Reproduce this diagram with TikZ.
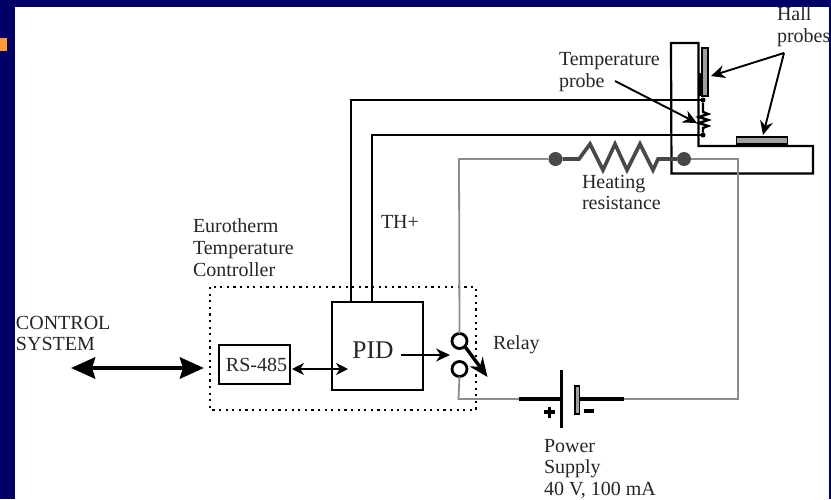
\documentclass[tikz,border=0pt]{standalone}
\usepackage{fontspec}
\setmainfont{Liberation Serif}
\usetikzlibrary{arrows.meta}
\definecolor{navybg}{HTML}{000066}
\definecolor{bullet}{HTML}{FF9933}
\definecolor{wiregray}{HTML}{8C8C8C}
\definecolor{probegray}{HTML}{A0A0A0}
\definecolor{resdark}{HTML}{484848}
\tikzset{
  lbl/.style={anchor=base west,inner sep=0pt,outer sep=0pt,font=\fontsize{20}{22}\selectfont,text=black!85},
  blackwire/.style={draw=black,line width=1.8pt},
  graywire/.style={draw=wiregray,line width=1.8pt},
  thin arrow/.style={draw=black,line width=1.9pt,-{Stealth[length=14pt,width=13pt]}},
  boxnode/.style={draw=black,line width=2.3pt,inner sep=0pt,outer sep=0pt,fill=white,anchor=north west},
  terminal/.style={circle,draw=black,line width=2.8pt,minimum size=15pt,inner sep=0pt,outer sep=0pt},
  dotnode/.style={circle,fill=resdark,minimum size=14pt,inner sep=0pt,outer sep=0pt},
  tinydot/.style={circle,fill=black,minimum size=5pt,inner sep=0pt,outer sep=0pt},
  probebox/.style={draw=black,line width=1.8pt,fill=probegray,inner sep=0pt,outer sep=0pt,anchor=north west}
}
\begin{document}
\begin{tikzpicture}[x=1pt,y=-1pt]
\useasboundingbox (0,0) rectangle (831,499);
\fill[navybg] (0,0) rectangle (831,499);
\fill[white] (15,7) rectangle (829,499);
\fill[bullet] (0,37.5) rectangle (7,51);

% sample holder
\draw[draw=black,line width=2.2pt,line join=miter] (671,43) -- (698.5,43) -- (698.5,146) -- (813,146) -- (813,173.5) -- (671.5,173.5) -- cycle;
\node[probebox,minimum width=6pt,minimum height=48pt] (hallA) at (702,48) {};
\node[probebox,minimum width=51pt,minimum height=7pt] (hallB) at (736.5,137) {};
\draw[draw=black,line width=2.5pt] (699.5,73) -- (699.5,96);

% boxes
\draw[draw=black,line width=2.2pt,dash pattern=on 2.2pt off 4.4pt] (210,287) rectangle (476,410);
\node[boxnode,minimum width=91pt,minimum height=88pt] (pid) at (332,302) {};
\node[anchor=base,inner sep=0pt,font=\fontsize{25.5}{28}\selectfont,text=black!85] (pidt) at (373,358) {PID};
\node[boxnode,minimum width=71pt,minimum height=39pt] (rs) at (219,345) {};
\node[anchor=base,inner sep=0pt,font=\fontsize{20}{22}\selectfont,text=black!85] (rst) at (256.5,371) {RS-485};

% named points
\coordinate (ctlL) at (71,368);
\coordinate (ctlR) at (204,368);
\coordinate (wireA) at (351,100);
\coordinate (wireB) at (372,135);
\coordinate (pidA) at (351,302);
\coordinate (pidB) at (372,302);
\node[tinydot] (tpA) at (703,100) {};
\node[tinydot] (tpB) at (703,135) {};

% controller wires
\draw[blackwire] (pidA) -- (wireA) -- (tpA);
\draw[blackwire] (pidB) -- (wireB) -- (tpB);

% temperature probe coil
\draw[draw=black,line width=2.4pt] (tpA) -- (703,112) -- (708,114) -- (699,117) -- (708,120) -- (699,123) -- (708,126) -- (703,128) -- (tpB);

% relay
\node[terminal] (relA) at (459.5,341) {};
\node[terminal] (relB) at (459.5,369) {};
\coordinate (relTip) at (487.5,377);
\draw[draw=black,line width=3.4pt,-{Stealth[length=19pt,width=16pt,fill=resdark]}] (relA.-45) -- (relTip);

% heater
\node[dotnode] (resL) at (555.5,159) {};
\node[dotnode] (resR) at (684,159) {};
\draw[graywire] (relA.north) -- (459,159) -- (resL);
\draw[draw=resdark,line width=3.6pt,line join=miter] (resL) -- (579,159) -- (590,144) -- (603,170) -- (615,144) -- (627,170) -- (640,144) -- (653,170) -- (658,159) -- (resR);

% battery
\coordinate (batL) at (519,399);
\coordinate (batPlus) at (560,399);
\coordinate (batMinus) at (579,399);
\coordinate (batR) at (624,399);
\draw[graywire] (relB.south) -- (458.5,399) -- (batL);
\draw[graywire] (resR) -- (738,159) -- (738,399) -- (batR);
\draw[draw=black,line width=3.6pt] (batL) -- (batPlus);
\draw[draw=black,line width=3.6pt] (batMinus) -- (batR);
\draw[draw=black,line width=3.8pt] (561.5,370) -- (561.5,428);
\node[draw=black,line width=1.5pt,fill=probegray,minimum width=4.5pt,minimum height=28pt,inner sep=0pt,anchor=north west] (plate) at (574,385) {};
\draw[draw=black,line width=3.4pt] (544,412) -- (555,412) (549.5,406.5) -- (549.5,417.5);
\draw[draw=black,line width=3.4pt] (584,411) -- (594,411);

% arrows
\draw[draw=black,line width=4.6pt,{Stealth[length=24pt,width=21pt,inset=3pt]}-{Stealth[length=24pt,width=21pt,inset=3pt]}] (ctlL) -- (ctlR);
\draw[draw=black,line width=1.9pt,{Stealth[length=12pt,width=12pt]}-{Stealth[length=12pt,width=12pt]}] (rs.east |- 0,369) ++(2,0) -- (348,369);
\draw[thin arrow] (401,355) -- (450,355);
\coordinate (hallFork) at (784,53);
\coordinate (hallAtip) at (711,76);
\coordinate (hallBtip) at (763,135);
\draw[thin arrow] (hallFork) -- (hallAtip);
\draw[thin arrow] (hallFork) -- (hallBtip);
\coordinate (tmpStart) at (615,81);
\coordinate (tmpTip) at (697,123);
\draw[thin arrow] (tmpStart) -- (tmpTip);

% labels
\node[lbl] (t1) at (16,329) {CONTROL};
\node[lbl] (t2) at (16,350) {SYSTEM};
\node[lbl] (t3) at (193,232) {Eurotherm};
\node[lbl] (t4) at (193,254) {Temperature};
\node[lbl] (t5) at (193,276) {Controller};
\node[lbl] (t6) at (381,228) {TH+};
\node[lbl] (t7) at (493,349) {Relay};
\node[lbl] (t8) at (544,452) {Power};
\node[lbl] (t9) at (544,473) {Supply};
\node[lbl] (t10) at (544,495) {40 V, 100 mA};
\node[lbl] (t11) at (582,188) {Heating};
\node[lbl] (t12) at (582,209) {resistance};
\node[lbl] (t13) at (559,65) {Temperature};
\node[lbl] (t14) at (559,87) {probe};
\node[lbl] (t15) at (777,20) {Hall};
\node[lbl] (t16) at (777,42) {probes};
\end{tikzpicture}
\end{document}
